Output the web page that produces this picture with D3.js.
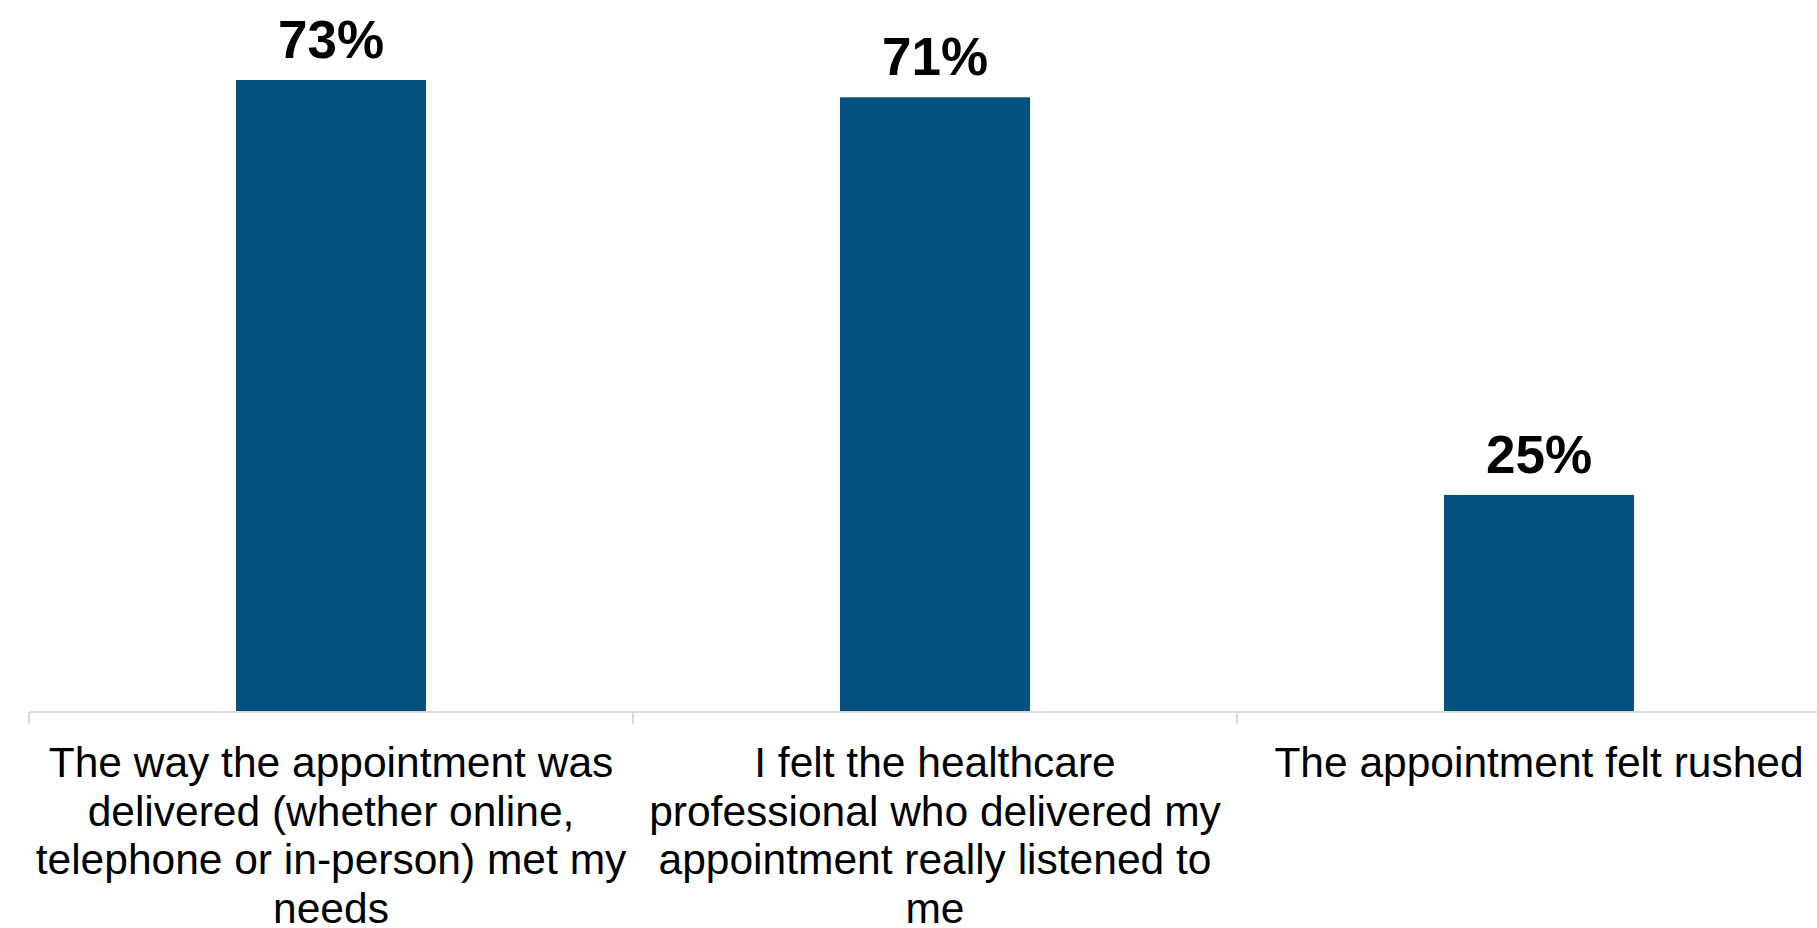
<!DOCTYPE html>
<html>
<head>
<meta charset="utf-8">
<script src="https://cdn.jsdelivr.net/npm/d3@7"></script>
<style>
  html, body { margin: 0; padding: 0; background: #ffffff; }
  svg { display: block; }
</style>
</head>
<body>
<svg id="chart" width="1817" height="928"></svg>
<script>
// Survey results: share of respondents agreeing with each statement
const categories = [
  "The way the appointment was delivered (whether online, telephone or in-person) met my needs",
  "I felt the healthcare professional who delivered my appointment really listened to me",
  "The appointment felt rushed"
];
const values = [73, 71, 25];
const valueLabels = ["73%", "71%", "25%"];

const W = 1817, H = 928;
const plot = { left: 29, right: 1841, baseline: 711 };
const barColor = "#03527d";
const axisColor = "#d9d9d9";
const font = "'Liberation Sans', Arial, Helvetica, sans-serif";

const svg = d3.select("#chart");

const x = d3.scaleBand()
  .domain(categories)
  .range([plot.left, plot.right])
  .paddingInner(0.6854)
  .paddingOuter(0.6854 / 2);

const y = d3.scaleLinear()
  .domain([0, 100])
  .range([plot.baseline, plot.baseline - 864.4]);

// Bars
svg.append("g")
  .selectAll("rect")
  .data(values)
  .join("rect")
  .attr("x", (d, i) => x(categories[i]))
  .attr("y", d => y(d))
  .attr("width", x.bandwidth())
  .attr("height", d => y(0) - y(d))
  .attr("fill", barColor);

// Value labels above bars
svg.append("g")
  .selectAll("text")
  .data(values)
  .join("text")
  .attr("x", (d, i) => x(categories[i]) + x.bandwidth() / 2)
  .attr("y", d => y(d) - 22)
  .attr("text-anchor", "middle")
  .attr("font-family", font)
  .attr("font-weight", "bold")
  .attr("font-size", "53px")
  .attr("fill", "#000")
  .text((d, i) => valueLabels[i]);

// Category axis: baseline and boundary ticks between categories
const axisY = plot.baseline + 1;
const axis = svg.append("g");
axis.append("line")
  .attr("x1", plot.left).attr("x2", plot.right)
  .attr("y1", axisY).attr("y2", axisY)
  .attr("stroke", axisColor).attr("stroke-width", 2);

const boundaries = categories.map(c => x(c) - x.step() * x.paddingInner() / 2)
  .concat([plot.right]);
axis.selectAll("line.tick")
  .data(boundaries)
  .join("line")
  .attr("class", "tick")
  .attr("x1", d => d).attr("x2", d => d)
  .attr("y1", axisY).attr("y2", axisY + 12)
  .attr("stroke", axisColor).attr("stroke-width", 2);

// Wrapped category labels
const labelSize = 42.5;
const lineHeight = 48.6;
const wrapWidth = x.step() - 4;

const measurer = svg.append("text")
  .attr("font-family", font)
  .attr("font-size", labelSize + "px")
  .attr("visibility", "hidden");

function wrap(str) {
  const words = str.split(" ");
  const lines = [];
  let cur = "";
  words.forEach(w => {
    const trial = cur ? cur + " " + w : w;
    measurer.text(trial);
    if (measurer.node().getComputedTextLength() > wrapWidth && cur) {
      lines.push(cur);
      cur = w;
    } else {
      cur = trial;
    }
  });
  if (cur) lines.push(cur);
  return lines;
}

const labels = svg.append("g");
categories.forEach(c => {
  const t = labels.append("text")
    .attr("x", x(c) + x.bandwidth() / 2)
    .attr("y", axisY + 65)
    .attr("text-anchor", "middle")
    .attr("font-family", font)
    .attr("font-size", labelSize + "px")
    .attr("fill", "#000");
  wrap(c).forEach((line, i) => {
    t.append("tspan")
      .attr("x", x(c) + x.bandwidth() / 2)
      .attr("dy", i === 0 ? 0 : lineHeight)
      .text(line);
  });
});
measurer.remove();
</script>
</body>
</html>
